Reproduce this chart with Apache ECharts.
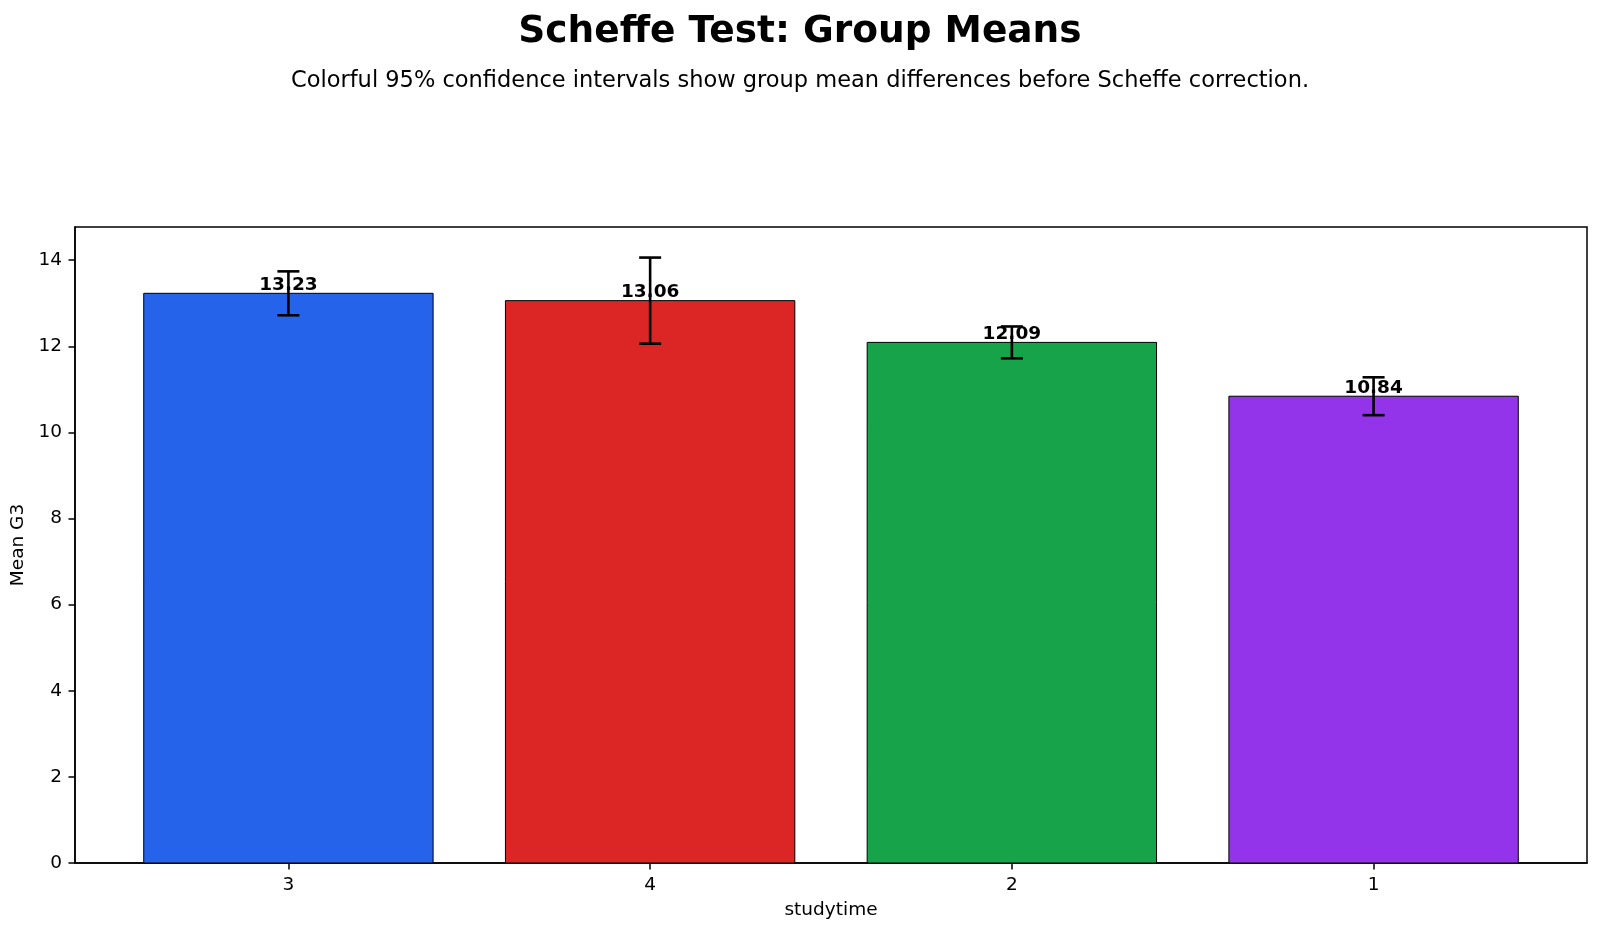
<!DOCTYPE html>
<html lang="en">
<head>
  <meta charset="UTF-8">
  <title>Scheffe Test: Group Means</title>
  <script src="https://cdn.jsdelivr.net/npm/echarts@6/dist/echarts.min.js"></script>
  <style>
    * { margin: 0; padding: 0; }
    body { background: #fff; }
    #chart { width: 1600px; height: 932px; }
  </style>
</head>
<body>
  <div id="chart"></div>
  <script>
    // groups (studytime), sorted by mean
    const groups = ['3', '4', '2', '1'];
    const means = [13.23, 13.06, 12.09, 10.84];
    // half width of the 95% CI
    const errs = [0.51, 1.0, 0.37, 0.44];
    const colors = ['#2563EB', '#DC2626', '#16A34A', '#9333EA'];
    const yTicks = [0, 2, 4, 6, 8, 10, 12, 14];

    const font = 'DejaVu Sans';
    const chart = echarts.init(document.getElementById('chart'));

    const option = {
      backgroundColor: '#fff',
      animation: false,
      title: [
        {
          text: 'Scheffe Test: Group Means',
          left: 'center',
          top: 13,
          padding: 0,
          textStyle: { fontFamily: font, fontSize: 37.5, fontWeight: 'bold', color: '#000' }
        },
        {
          text: 'Colorful 95% confidence intervals show group mean differences before Scheffe correction.',
          left: 'center',
          top: 70,
          padding: 0,
          textStyle: { fontFamily: font, fontSize: 22.5, fontWeight: 'normal', color: '#000' }
        }
      ],
      grid: {
        left: 75, right: 13, top: 227, bottom: 69,
        show: true, borderColor: '#000', borderWidth: 1.5, backgroundColor: '#fff'
      },
      xAxis: {
        type: 'value',
        min: -0.59,
        max: 3.59,
        name: 'studytime',
        nameLocation: 'middle',
        nameGap: 38,
        nameTextStyle: { fontFamily: font, fontSize: 18.5, color: '#000' },
        axisLine: { show: true, onZero: false, lineStyle: { color: '#000', width: 1.5 } },
        axisTick: { show: true, length: 6.5, customValues: [0, 1, 2, 3], lineStyle: { color: '#000', width: 1.5 } },
        axisLabel: {
          customValues: [0, 1, 2, 3],
          margin: 13,
          fontFamily: font, fontSize: 18.5, color: '#000',
          formatter: v => groups[Math.round(v)]
        },
        splitLine: { show: false }
      },
      yAxis: {
        type: 'value',
        min: 0,
        max: 14.77,
        name: 'Mean G3',
        nameLocation: 'middle',
        nameGap: 44,
        nameTextStyle: { fontFamily: font, fontSize: 18.5, color: '#000' },
        axisLine: { show: true, onZero: false, lineStyle: { color: '#000', width: 1.5 } },
        axisTick: { show: true, length: 6.5, customValues: yTicks, lineStyle: { color: '#000', width: 1.5 } },
        axisLabel: {
          customValues: yTicks,
          margin: 13,
          fontFamily: font, fontSize: 18.5, color: '#000'
        },
        splitLine: { show: false }
      },
      series: [
        {
          // bars
          type: 'custom',
          data: means.map((m, i) => [i, m]),
          renderItem: (params, api) => {
            const i = api.value(0);
            const p0 = api.coord([i - 0.4, api.value(1)]);
            const p1 = api.coord([i + 0.4, 0]);
            return {
              type: 'rect',
              shape: { x: p0[0], y: p0[1], width: p1[0] - p0[0], height: p1[1] - p0[1] },
              style: { fill: colors[params.dataIndex], stroke: '#000', lineWidth: 1 }
            };
          },
          z: 2
        },
        {
          // value labels
          type: 'custom',
          data: means.map((m, i) => [i, m]),
          renderItem: (params, api) => {
            const p = api.coord([api.value(0), api.value(1)]);
            return {
              type: 'text',
              x: p[0],
              y: p[1] - 8,
              style: {
                text: api.value(1).toFixed(2),
                fontFamily: font, fontSize: 18.5, fontWeight: 'bold', fill: '#000',
                align: 'center', verticalAlign: 'middle'
              }
            };
          },
          z: 3
        },
        {
          // error bars
          type: 'custom',
          data: means.map((m, i) => [i, m - errs[i], m + errs[i]]),
          renderItem: (params, api) => {
            const lo = api.coord([api.value(0), api.value(1)]);
            const hi = api.coord([api.value(0), api.value(2)]);
            const cap = 11;
            const st = { stroke: '#000', lineWidth: 2.6 };
            return {
              type: 'group',
              children: [
                { type: 'line', shape: { x1: lo[0], y1: lo[1], x2: hi[0], y2: hi[1] }, style: st },
                { type: 'line', shape: { x1: lo[0] - cap, y1: lo[1], x2: lo[0] + cap, y2: lo[1] }, style: st },
                { type: 'line', shape: { x1: hi[0] - cap, y1: hi[1], x2: hi[0] + cap, y2: hi[1] }, style: st }
              ]
            };
          },
          z: 4
        }
      ]
    };

    chart.setOption(option);
  </script>
</body>
</html>
